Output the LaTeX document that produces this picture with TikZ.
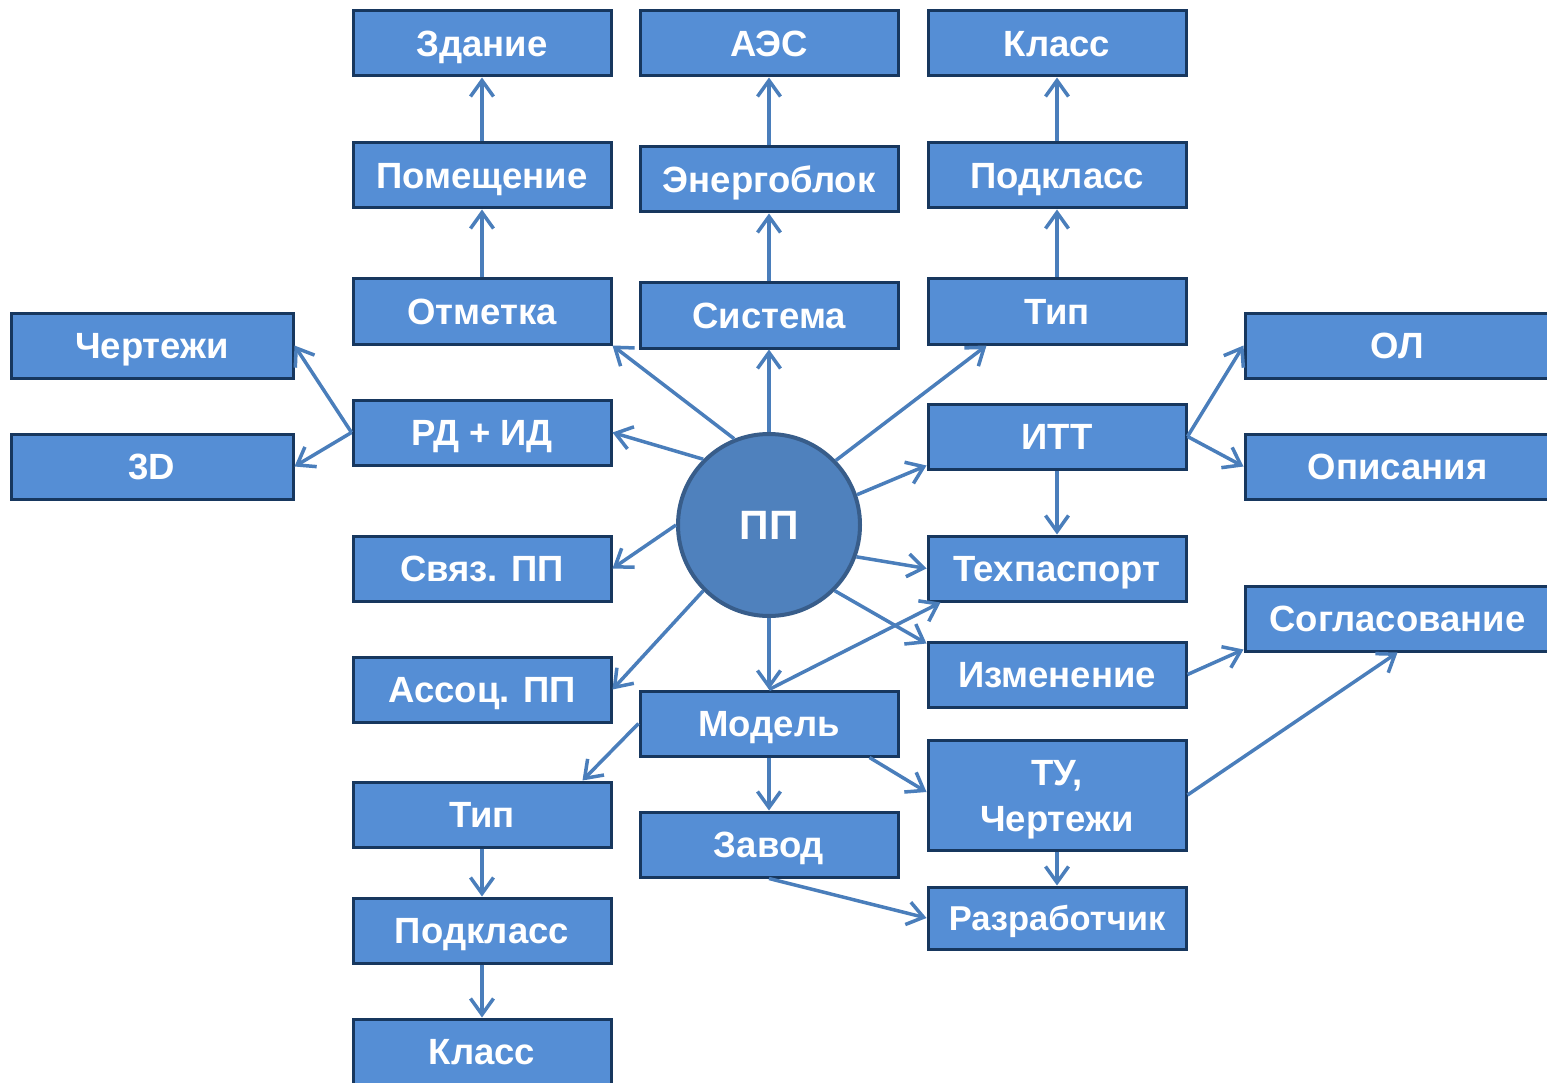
\documentclass[tikz,border=0pt]{standalone}
\usepackage{fontspec}
\setmainfont{Liberation Sans}
\usetikzlibrary{arrows.meta}
\definecolor{boxfill}{HTML}{558ED5}
\definecolor{boxline}{HTML}{17375E}
\definecolor{arr}{HTML}{4A7EBB}
\definecolor{circfill}{HTML}{4F81BD}
\definecolor{circline}{HTML}{385D8A}
\begin{document}
\begin{tikzpicture}[x=1pt,y=-1pt,
  bx/.style={draw=boxline, fill=boxfill, line width=3pt, rectangle, inner sep=0pt,
    text=white, font=\fontsize{36.5}{46}\selectfont\bfseries,
    text height=26.1pt, text depth=0pt, minimum height=65pt},
  c1/.style={bx, minimum width=258pt},
  sd/.style={bx, minimum width=282pt},
  rt/.style={bx, minimum width=305pt},
  ar/.style={draw=arr, line width=3.5pt, -{Straight Barb[length=16pt,width=23pt]}}]
\useasboundingbox (0,0) rectangle (1547,1083);
\clip (0,0) rectangle (1547,1083);
% column 1
\node[c1] (zd) at (482,43.5) {Здание};
\node[c1] (pm) at (482,175.5) {Помещение};
\node[c1] (ot) at (482,311.5) {Отметка};
\node[c1] (rd) at (482,432.5) {РД + ИД};
\node[c1] (sv) at (482,568.5) {Связ. ПП};
\node[c1] (as) at (482,689.5) {Ассоц. ПП};
\node[c1] (tb) at (482,814.5) {Тип};
\node[c1] (pb) at (482,930.5) {Подкласс};
\node[c1] (kb) at (482,1051.5) {Класс};
% column 2
\node[c1] (aes) at (769,43.5) {АЭС};
\node[c1] (eb) at (769,179.5) {Энергоблок};
\node[c1] (sy) at (769,315.5) {Система};
\node[c1] (md) at (769,723.5) {Модель};
\node[c1] (zv) at (769,844.5) {Завод};
% column 3
\node[c1] (kt) at (1057,43.5) {Класс};
\node[c1] (pt) at (1057,175.5) {Подкласс};
\node[c1] (tt) at (1057,311.5) {Тип};
\node[c1] (itt) at (1057,436.5) {ИТТ};
\node[c1] (tp) at (1057,568.5) {Техпаспорт};
\node[c1] (iz) at (1057,674.5) {Изменение};
\node[c1, minimum height=110pt, align=center, text height=72.1pt] (tu) at (1057,795) {ТУ,\\Чертежи};
\node[c1, minimum height=62pt, font=\fontsize{34.5}{44}\selectfont\bfseries, text height=24.7pt] (rz) at (1057,918) {Разработчик};
% left
\node[sd] (chl) at (152,345.5) {Чертежи};
\node[sd] (d3) at (152,466.5) {3D};
% right
\node[rt] (ol) at (1397.5,345.5) {ОЛ};
\node[rt] (opi) at (1397.5,466.5) {Описания};
\node[rt] (sg) at (1397.5,618.5) {Согласование};
% centre
\node[circle, draw=circline, fill=circfill, line width=4pt, minimum size=182pt, inner sep=0pt,
  text=white, font=\fontsize{41}{46}\selectfont\bfseries] (pp) at (769,525) {ПП};
% arrows
\draw[ar] (pm.north) -- (zd.south);
\draw[ar] (ot.north) -- (pm.south);
\draw[ar] (eb.north) -- (aes.south);
\draw[ar] (sy.north) -- (eb.south);
\draw[ar] (pt.north) -- (kt.south);
\draw[ar] (tt.north) -- (pt.south);
\draw[ar] (pp.112.9) -- (ot.south east);
\draw[ar] (pp.north) -- (sy.south);
\draw[ar] (pp.44.6) -- ([xshift=60pt]tt.south west);
\draw[ar] (pp.135.4) -- (rd.east);
\draw[ar] (rd.west) -- (chl.east);
\draw[ar] (rd.west) -- (d3.east);
\draw[ar] (pp.180) -- (sv.east);
\draw[ar] (pp.225.4) -- (as.east);
\draw[ar] (pp.south) -- (md.north);
\draw[ar] (pp.19.6) -- ([yshift=5pt]itt.south west);
\draw[ar] (pp.340.4) -- (tp.west);
\draw[ar] (pp.315.4) -- ([yshift=-3pt]iz.north west);
\draw[ar] (itt.south) -- (tp.north);
\draw[ar] (itt.east) -- (ol.west);
\draw[ar] (itt.east) -- (opi.west);
\draw[ar] (iz.east) -- ([yshift=3pt]sg.south west);
\draw[ar] (tu.east) -- (sg.south);
\draw[ar] (md.north) -- ([xshift=14pt]tp.south west);
\draw[ar] (md.west) -- ([xshift=-30pt]tb.north east);
\draw[ar] (md.south) -- (zv.north);
\draw[ar] ([xshift=-30pt]md.south east) -- ([yshift=3pt]tu.west);
\draw[ar] (tu.south) -- (rz.north);
\draw[ar] (zv.south) -- (rz.west);
\draw[ar] (tb.south) -- (pb.north);
\draw[ar] (pb.south) -- (kb.north);
\end{tikzpicture}
\end{document}
